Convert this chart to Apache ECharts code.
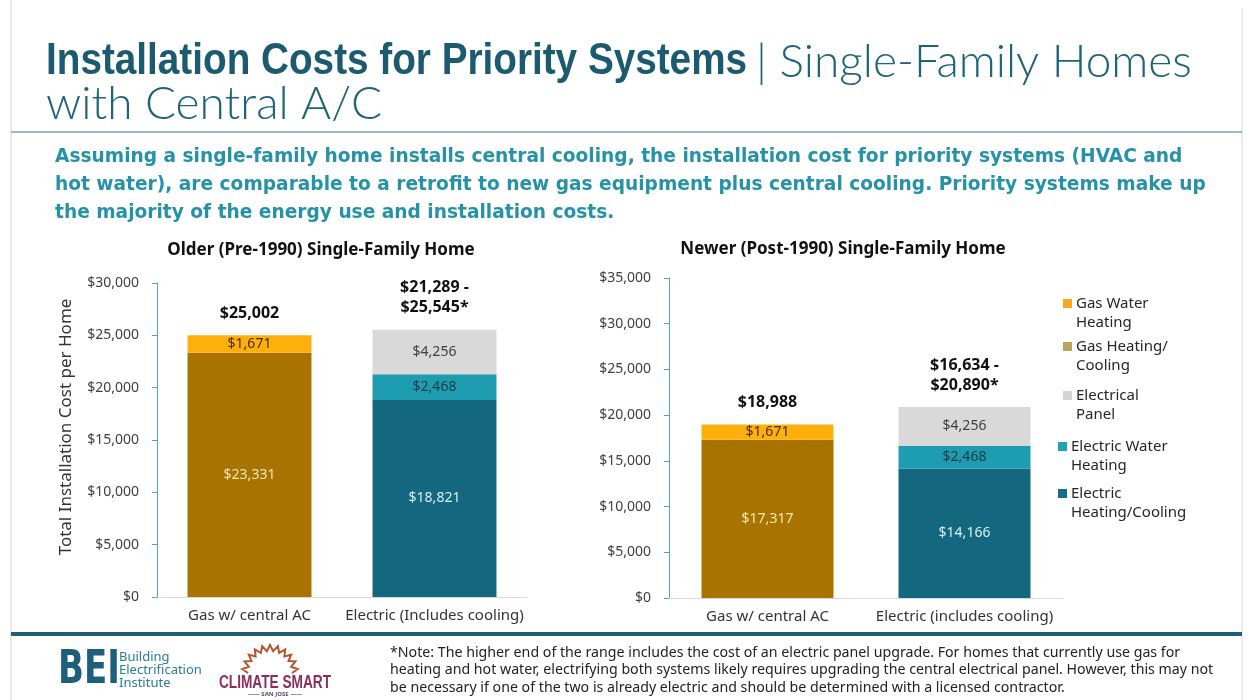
<!DOCTYPE html>
<html>
<head>
<meta charset="utf-8">
<script src="https://cdn.jsdelivr.net/npm/echarts@6/dist/echarts.min.js"></script>
<style>
  html, body { margin: 0; padding: 0; background: #fff; }
  #chart { width: 1249px; height: 700px; }
</style>
</head>
<body>
<div id="chart"></div>
<script>
// categories for the two panels
const olderCats = ["Gas w/ central AC", "Electric (Includes cooling)"];
const newerCats = ["Gas w/ central AC", "Electric (includes cooling)"];

// series values (one entry per category, null = not part of that bar)
const olderGasHeat = [23331, null];
const olderGasWater = [1671, null];
const olderElecHeat = [null, 18821];
const olderElecWater = [null, 2468];
const olderPanel = [null, 4256];

const newerGasHeat = [17317, null];
const newerGasWater = [1671, null];
const newerElecHeat = [null, 14166];
const newerElecWater = [null, 2468];
const newerPanel = [null, 4256];

// axis ranges
const olderMax = 30000;
const newerMax = 35000;
const tickStep = 5000;

// legend entries (top to bottom)
const legendNames = ["Gas Water\nHeating", "Gas Heating/\nCooling", "Electrical\nPanel", "Electric Water\nHeating", "Electric\nHeating/Cooling"];
const legendColors = ["#f5aa1c", "#bba45e", "#d4d4d4", "#22a3b5", "#176c87"];

const C = {
  gasHeat: "#a87300",
  gasWater: "#fdb00c",
  panel: "#d9d9d9",
  elecWater: "#1f9db0",
  elecHeat: "#136880"
};

const money = v => "$" + Number(v).toLocaleString("en-US");
const FONT = '"Noto Sans", "DejaVu Sans", sans-serif';

function segment(name, data, grid, color, labelColor) {
  return {
    name: name,
    type: "bar",
    stack: "s" + grid,
    xAxisIndex: grid,
    yAxisIndex: grid,
    barWidth: "67%",
    data: data,
    itemStyle: { color: color },
    label: {
      show: true,
      position: "inside",
      color: labelColor,
      fontFamily: FONT,
      fontSize: 14,
      formatter: p => (p.value == null ? "" : money(p.value))
    }
  };
}

// total label on top of each stack: plain sum for gas, range for electric
function totals(grid, gasParts, low, high) {
  return {
    name: "total" + grid,
    type: "bar",
    stack: "s" + grid,
    xAxisIndex: grid,
    yAxisIndex: grid,
    barWidth: "67%",
    data: [0, 0],
    itemStyle: { color: "transparent" },
    label: {
      show: true,
      position: "top",
      distance: 12,
      color: "#111",
      fontFamily: FONT,
      fontWeight: "bold",
      fontSize: 16,
      lineHeight: 20,
      formatter: p => {
        if (p.dataIndex === 0) {
          return money(gasParts.reduce((s, a) => s + a[0], 0));
        }
        const lo = low.reduce((s, a) => s + a[1], 0);
        const hi = lo + high[1];
        return money(lo) + " -\n" + money(hi) + "*";
      }
    }
  };
}

function yAxis(grid, max, withName) {
  return {
    type: "value",
    gridIndex: grid,
    min: 0,
    max: max,
    interval: tickStep,
    name: withName ? "Total Installation Cost per Home" : "",
    nameLocation: "middle",
    nameGap: 82,
    nameRotate: 90,
    nameTextStyle: { fontFamily: FONT, fontSize: 17, color: "#333", padding: [0, 0, 0, 26] },
    axisLine: { show: true, lineStyle: { color: "#5aa3ae", width: 1 } },
    axisTick: { show: true, length: 5, lineStyle: { color: "#5aa3ae" } },
    splitLine: { show: false },
    axisLabel: { color: "#404040", fontFamily: FONT, fontSize: 14, margin: 18, formatter: v => money(v) }
  };
}

function xAxis(grid, cats) {
  return {
    type: "category",
    gridIndex: grid,
    data: cats,
    axisLine: { lineStyle: { color: "#d9d9d9" } },
    axisTick: { show: false },
    axisLabel: { interval: 0, color: "#333", fontFamily: FONT, fontSize: 15, margin: 11 }
  };
}

// sun for the Climate Smart mark
const sunPts = [];
for (let i = 0; i <= 22; i++) {
  const a = Math.PI + (Math.PI * i) / 22;
  const r = i % 2 === 0 ? 22 : 28;
  sunPts.push([270 + r * Math.cos(a), 673 + r * Math.sin(a)]);
}

const LIGHT = '300 46px Lato, "Noto Sans", sans-serif';

const graphic = [
  { type: "line", shape: { x1: 11, y1: 0, x2: 11, y2: 700 }, style: { stroke: "#d6d6d6", lineWidth: 1 } },
  { type: "line", shape: { x1: 1242, y1: 8, x2: 1242, y2: 700 }, style: { stroke: "#d6d6d6", lineWidth: 1 } },
  { type: "line", shape: { x1: 11, y1: 132, x2: 1242, y2: 132 }, style: { stroke: "#6fa9b6", lineWidth: 1.5 } },
  { type: "rect", shape: { x: 11, y: 632, width: 1231, height: 4 }, style: { fill: "#1d5f73" } },

  { type: "text", x: 46, y: 62, scaleX: 0.86, style: { text: "Installation Costs for Priority Systems", font: 'bold 45px "Liberation Sans", sans-serif', fill: "#1b5a6f", textVerticalAlign: "middle" } },
  { type: "text", x: 756, y: 62, style: { text: "| Single-Family Homes", font: LIGHT, fill: "#1f6379", textVerticalAlign: "middle" } },
  { type: "text", x: 46, y: 104, style: { text: "with Central A/C", font: LIGHT, fill: "#1f6379", textVerticalAlign: "middle" } },

  { type: "text", x: 55, y: 185, style: {
      text: "Assuming a single-family home installs central cooling, the installation cost for priority systems (HVAC and\nhot water), are comparable to a retrofit to new gas equipment plus central cooling. Priority systems make up\nthe majority of the energy use and installation costs.",
      font: 'bold 18.6px "DejaVu Sans", sans-serif', lineHeight: 28, fill: "#2592a7", textVerticalAlign: "middle" } },

  { type: "text", x: 321, y: 250, style: { text: "Older (Pre-1990) Single-Family Home", font: 'bold 17px ' + FONT, fill: "#111", textAlign: "center", textVerticalAlign: "middle" } },
  { type: "text", x: 843, y: 249, style: { text: "Newer (Post-1990) Single-Family Home", font: 'bold 17px ' + FONT, fill: "#111", textAlign: "center", textVerticalAlign: "middle" } },

  { type: "text", x: 390, y: 670, style: {
      text: "*Note: The higher end of the range includes the cost of an electric panel upgrade. For homes that currently use gas for\nheating and hot water, electrifying both systems likely requires upgrading the central electrical panel. However, this may not\nbe necessary if one of the two is already electric and should be determined with a licensed contractor.",
      font: '14.2px ' + FONT, lineHeight: 17.5, fill: "#222", textVerticalAlign: "middle" } },

  // BEI mark
  { type: "text", x: 58, y: 671, scaleX: 0.74, style: { text: "BEI", font: 'bold 46px "DejaVu Sans", sans-serif', fill: "#1e5f7b", textVerticalAlign: "middle" } },
  { type: "text", x: 119, y: 670, style: { text: "Building\nElectrification\nInstitute", font: '13px ' + FONT, lineHeight: 13, fill: "#2b7d95", textVerticalAlign: "middle" } },

  // Climate Smart mark
  { type: "polyline", shape: { points: sunPts }, style: { stroke: "#b5562c", lineWidth: 2, fill: null } },
  { type: "text", x: 275, y: 683, scaleX: 0.76, style: { text: "CLIMATE SMART", font: 'bold 18px "Liberation Sans", sans-serif', fill: "#8b2e5c", textAlign: "center", textVerticalAlign: "middle" } },
  { type: "text", x: 275, y: 694, style: { text: "—— SAN JOSE ——", font: 'bold 6px ' + FONT, fill: "#5c4a70", textAlign: "center", textVerticalAlign: "middle" } }
];

// legend drawn as swatch + two-line label, swatch beside the first line
const legendY = [304, 347, 396, 447, 494];
const legendX = [1063, 1063, 1063, 1058, 1058];
legendNames.forEach((n, i) => {
  graphic.push({ type: "rect", shape: { x: legendX[i], y: legendY[i] - 5, width: 9, height: 9 }, style: { fill: legendColors[i] } });
  graphic.push({ type: "text", x: legendX[i] + 13, y: legendY[i] - 10, style: { text: n, font: '15px ' + FONT, lineHeight: 19, fill: "#262626" } });
});

const chart = echarts.init(document.getElementById("chart"));
chart.setOption({
  animation: false,
  grid: [
    { left: 157, top: 283, width: 370, height: 314 },
    { left: 669, top: 278, width: 394, height: 320 }
  ],
  xAxis: [xAxis(0, olderCats), xAxis(1, newerCats)],
  yAxis: [yAxis(0, olderMax, true), yAxis(1, newerMax, false)],
  series: [
    segment("Gas Heating/Cooling", olderGasHeat, 0, C.gasHeat, "#f4e7b4"),
    segment("Gas Water Heating", olderGasWater, 0, C.gasWater, "#4a2c00"),
    segment("Electric Heating/Cooling", olderElecHeat, 0, C.elecHeat, "#d8eff6"),
    segment("Electric Water Heating", olderElecWater, 0, C.elecWater, "#0f3b45"),
    segment("Electrical Panel", olderPanel, 0, C.panel, "#404040"),
    totals(0, [olderGasHeat, olderGasWater], [olderElecHeat, olderElecWater], olderPanel),

    segment("Gas Heating/Cooling", newerGasHeat, 1, C.gasHeat, "#f4e7b4"),
    segment("Gas Water Heating", newerGasWater, 1, C.gasWater, "#4a2c00"),
    segment("Electric Heating/Cooling", newerElecHeat, 1, C.elecHeat, "#d8eff6"),
    segment("Electric Water Heating", newerElecWater, 1, C.elecWater, "#0f3b45"),
    segment("Electrical Panel", newerPanel, 1, C.panel, "#404040"),
    totals(1, [newerGasHeat, newerGasWater], [newerElecHeat, newerElecWater], newerPanel)
  ],
  graphic: graphic
});
</script>
</body>
</html>
